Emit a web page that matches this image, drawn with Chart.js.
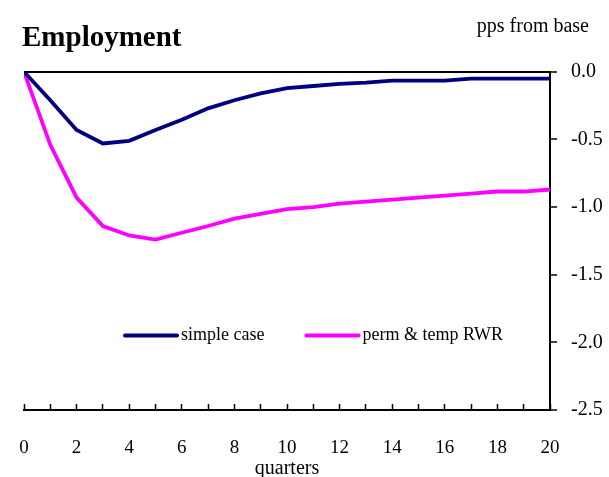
<!DOCTYPE html>
<html><head><meta charset="utf-8">
<script src="https://cdn.jsdelivr.net/npm/chart.js@4.4.1/dist/chart.umd.min.js"></script>
<style>html,body{margin:0;padding:0;background:#fff}</style>
</head><body>
<canvas id="c" width="609" height="477"></canvas>
<script>
const quarters = [0,1,2,3,4,5,6,7,8,9,10,11,12,13,14,15,16,17,18,19,20];
const simpleCase = [0,-0.21,-0.43,-0.53,-0.51,-0.43,-0.355,-0.27,-0.21,-0.16,-0.12,-0.105,-0.09,-0.08,-0.065,-0.065,-0.065,-0.05,-0.05,-0.05,-0.05];
const permTempRWR = [0,-0.54,-0.93,-1.14,-1.21,-1.24,-1.19,-1.14,-1.085,-1.05,-1.015,-1.0,-0.975,-0.96,-0.945,-0.93,-0.915,-0.9,-0.885,-0.885,-0.87];
const xTickLabels = [0,2,4,6,8,10,12,14,16,18,20];
const yTickValues = [0,-0.5,-1.0,-1.5,-2.0,-2.5];
const seriesNames = ['simple case','perm & temp RWR'];
const unitsText = 'pps from base';

const SERIF = '"Liberation Serif", "Times New Roman", serif';
Chart.defaults.font.family = SERIF;
Chart.defaults.color = '#000';

// legend drawn inside the plot area + units note at top right
const insideLegend = {
  id: 'insideLegend',
  afterDraw(chart) {
    const ctx = chart.ctx, ca = chart.chartArea, y = chart.scales.y;
    const cy = y.getPixelForValue(-1.95);
    const sample = 52, gap = 4, between = 42;
    let x = ca.left + 101;
    ctx.save();
    ctx.font = '18px ' + SERIF;
    ctx.textBaseline = 'middle';
    ctx.textAlign = 'left';
    chart.data.datasets.forEach(ds => {
      ctx.strokeStyle = ds.borderColor;
      ctx.lineWidth = 4;
      ctx.lineCap = 'round';
      ctx.beginPath(); ctx.moveTo(x, cy); ctx.lineTo(x + sample, cy); ctx.stroke();
      x += sample + gap;
      ctx.fillStyle = '#000';
      ctx.fillText(ds.label, x, cy);
      x += ctx.measureText(ds.label).width + between;
    });
    ctx.font = '20px ' + SERIF;
    ctx.textAlign = 'right';
    ctx.textBaseline = 'alphabetic';
    ctx.fillText(unitsText, chart.width - 20, 32);
    ctx.restore();
  }
};

new Chart(document.getElementById('c'), {
  type: 'line',
  data: {
    datasets: [
      { label: seriesNames[0], data: quarters.map((q,i)=>({x:q,y:simpleCase[i]})),
        borderColor:'#000080', backgroundColor:'#000080', borderWidth:3.8, pointRadius:0, tension:0, fill:false },
      { label: seriesNames[1], data: quarters.map((q,i)=>({x:q,y:permTempRWR[i]})),
        borderColor:'#FF00FF', backgroundColor:'#FF00FF', borderWidth:3.8, pointRadius:0, tension:0, fill:false }
    ]
  },
  options: {
    responsive:false, animation:false, devicePixelRatio:1,
    layout:{ padding:{ left:22, right:0, top:0, bottom:0 } },
    plugins:{
      title:{ display:true, text:'Employment', align:'start', color:'#000',
        font:{ family:SERIF, size:29, weight:'bold' }, padding:{ top:21, bottom:16 } },
      legend:{ display:false },
      tooltip:{ enabled:false }
    },
    scales:{
      x:{ type:'linear', position:'bottom', min:0, max:20,
        afterFit(s){ s.height = 67; s.paddingLeft = 24; s.paddingRight = 0; },
        ticks:{ stepSize:1, autoSkip:false, maxRotation:0, padding:33, color:'#000',
          font:{ family:SERIF, size:19 },
          callback:(v)=> xTickLabels.includes(v) ? String(v) : '' },
        grid:{ drawOnChartArea:false, drawTicks:true, tickLength:-6, tickColor:'#000', tickWidth:1.5 },
        border:{ display:true, color:'#000', width:2 },
        title:{ display:true, text:'quarters', color:'#000', font:{ family:SERIF, size:20 }, padding:{top:0,bottom:-4} }
      },
      y:{ type:'linear', position:'right', min:-2.5, max:0,
        afterFit(s){ s.width = 59; },
        ticks:{ stepSize:0.5, padding:14, color:'#000', font:{ family:SERIF, size:20 },
          callback:(v)=> yTickValues.includes(v) ? Number(v).toFixed(1) : '' },
        grid:{ drawOnChartArea:true, tickLength:7, tickColor:'#000', tickWidth:1.5, lineWidth:2,
          color:(ctx)=> (ctx.tick && ctx.tick.value === 0) ? '#000' : 'rgba(0,0,0,0)' },
        border:{ display:true, color:'#000', width:2 }
      }
    }
  },
  plugins:[insideLegend]
});
</script>
</body></html>
